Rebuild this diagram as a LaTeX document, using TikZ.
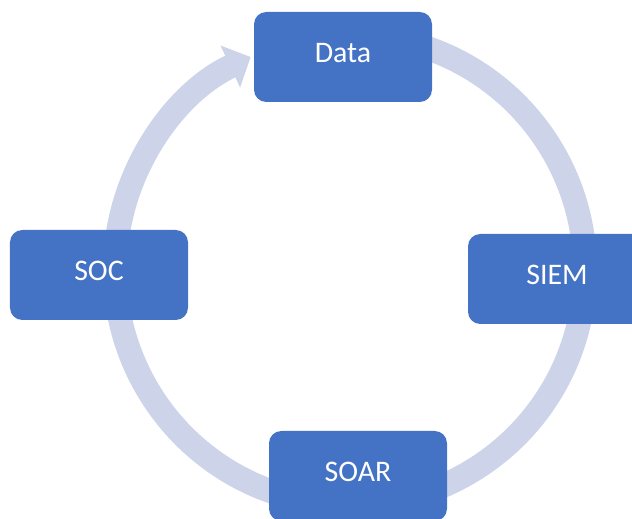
\documentclass[tikz,border=0pt]{standalone}
\usepackage{fontspec}
\setmainfont{Carlito}
\usepackage{xcolor}
\usepackage{tikz}
\usetikzlibrary{arrows.meta}
\definecolor{boxblue}{RGB}{68,114,196}
\definecolor{ringblue}{RGB}{205,212,234}

\begin{document}
\begin{tikzpicture}[every node/.style={font=\fontsize{17}{20}\selectfont},
          stage/.style={rounded corners=7pt,fill=boxblue,text=white,text depth=0.16cm,minimum width=3.56cm,minimum height=1.8cm},
          ring/.style={ringblue,line width=0.48cm}]
        \useasboundingbox (0,0) rectangle (12.64,10.36);
        \coordinate (hub) at (7,4.96);
        \draw[ring,-{Triangle[length=4.5mm,width=9mm]}] ([shift={(80:4.7)}]hub) arc[start angle=80,end angle=-245,radius=4.7];
        \node[stage] (data) at (6.86,9.22) {Data};
        \node[stage] (siem) at (11.14,4.78) {SIEM};
        \node[stage] (soar) at (7.16,0.84) {SOAR};
        \node[stage] (soc) at (1.98,4.86) {SOC};
      \end{tikzpicture}
\end{document}
